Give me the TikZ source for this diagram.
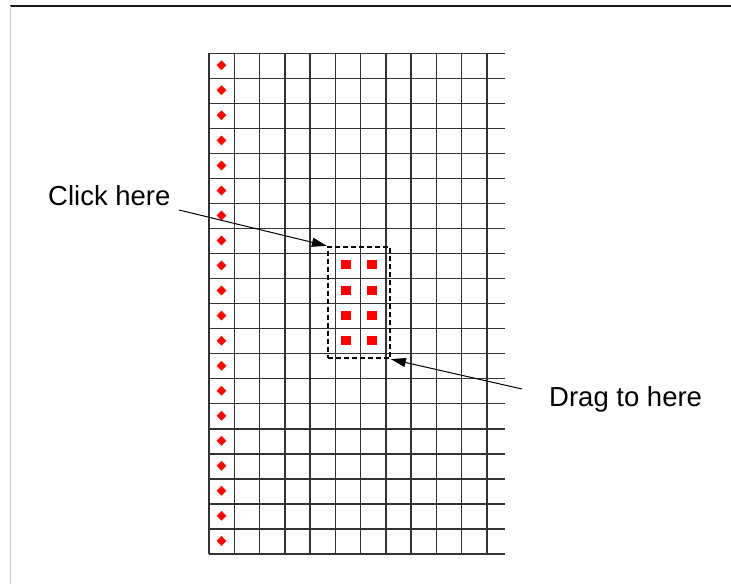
\documentclass[tikz,border=0pt]{standalone}
\usepackage{fontspec}
\setmainfont{Liberation Sans}
\usetikzlibrary{arrows.meta}
\begin{document}
\begin{tikzpicture}[x=1pt,y=-1pt,
  gridline/.style={black!80,line width=1.5pt},
  marker/.style={fill=red,draw=red!80!orange,line width=0.4pt},
  selsq/.style={fill=red,draw=none},
  selbox/.style={draw=black,dashed,dash pattern=on 5pt off 3pt,line width=1.7pt,inner sep=0pt},
  lbl/.style={font=\fontsize{27.5}{31}\selectfont,inner sep=0pt,anchor=base west},
  pointer/.style={draw=black,line width=1pt,-{Triangle[length=15pt,width=9pt]}}]
\useasboundingbox (0,0) rectangle (731,584);
\fill[white] (0,0) rectangle (731,584);
% frame
\draw[black!90,line width=1.2pt] (10,6) -- (731,6);
\draw[black!20,line width=1.2pt] (10.5,6) -- (10.5,584);
% grid
\foreach \r in {0,...,20}{
  \draw[gridline] (209,{53.3+25.03*\r}) -- (505,{53.3+25.03*\r});
}
\foreach \c in {0,...,11}{
  \draw[gridline] ({209+25.25*\c},53.3) -- ({209+25.25*\c},553.9);
}
% diamonds in first column
\foreach \r in {0,...,19}{
  \fill[marker] (221.5,{65.3+25.03*\r-4.6}) -- ++(4.6,4.6) -- ++(-4.6,4.6) -- ++(-4.6,-4.6) -- cycle;
}
% selected squares
\foreach \k in {0,...,3}{
  \fill[selsq] ({346-4.6},{264.8+25.3*\k-4.6}) rectangle ++(9.2,9.2);
  \fill[selsq] ({372-4.6},{264.8+25.3*\k-4.6}) rectangle ++(9.2,9.2);
}
% selection box
\node[selbox,minimum width=62.3pt,minimum height=111.6pt] (sel) at (358.85,302.5) {};
% labels
\node[lbl] (click) at (48,205) {Click here};
\node[lbl] (drag) at (549,406) {Drag to here};
\coordinate (clickstart) at (179,210);
\coordinate (dragstart) at (522,389);
\draw[pointer] (clickstart) -- (sel.north west);
\draw[pointer] (dragstart) -- (sel.south east);
\end{tikzpicture}
\end{document}
